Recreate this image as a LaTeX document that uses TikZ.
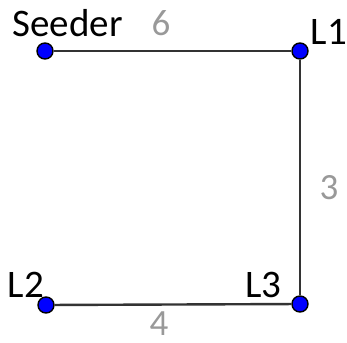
\documentclass[tikz,border=0pt]{standalone}
\usepackage{fontspec}
\setmainfont{Carlito}
\begin{document}
\begin{tikzpicture}[x=1pt,y=-1pt,
  vert/.style={circle,fill=blue,draw=black,line width=1.4pt,inner sep=0pt,minimum size=16pt},
  edge/.style={draw=black!80,line width=2.4pt},
  lbl/.style={font=\fontsize{39}{39}\selectfont,text=black,inner sep=0pt,anchor=base},
  wt/.style={font=\fontsize{37}{37}\selectfont,text=black!40,inner sep=0pt,anchor=base}]
\useasboundingbox (0,0) rectangle (347,342);
\node[vert] (S) at (45,51) {};
\node[vert] (L1) at (300,51) {};
\node[vert] (L3) at (300,304) {};
\node[vert] (L2) at (46,305) {};
\draw[edge] (S) -- (L1);
\draw[edge] (L1) -- (L3);
\draw[edge] (L3) -- (L2);
\node[lbl] (tS) at (67.5,37) {Seeder};
\node[lbl] (t1) at (329,45) {L1};
\node[lbl] (t3) at (263.5,297) {L3};
\node[lbl] (t2) at (26,297) {L2};
\node[wt] (w6) at (161,36) {6};
\node[wt] (w3) at (329,199) {3};
\node[wt] (w4) at (159,335) {4};
\end{tikzpicture}
\end{document}
